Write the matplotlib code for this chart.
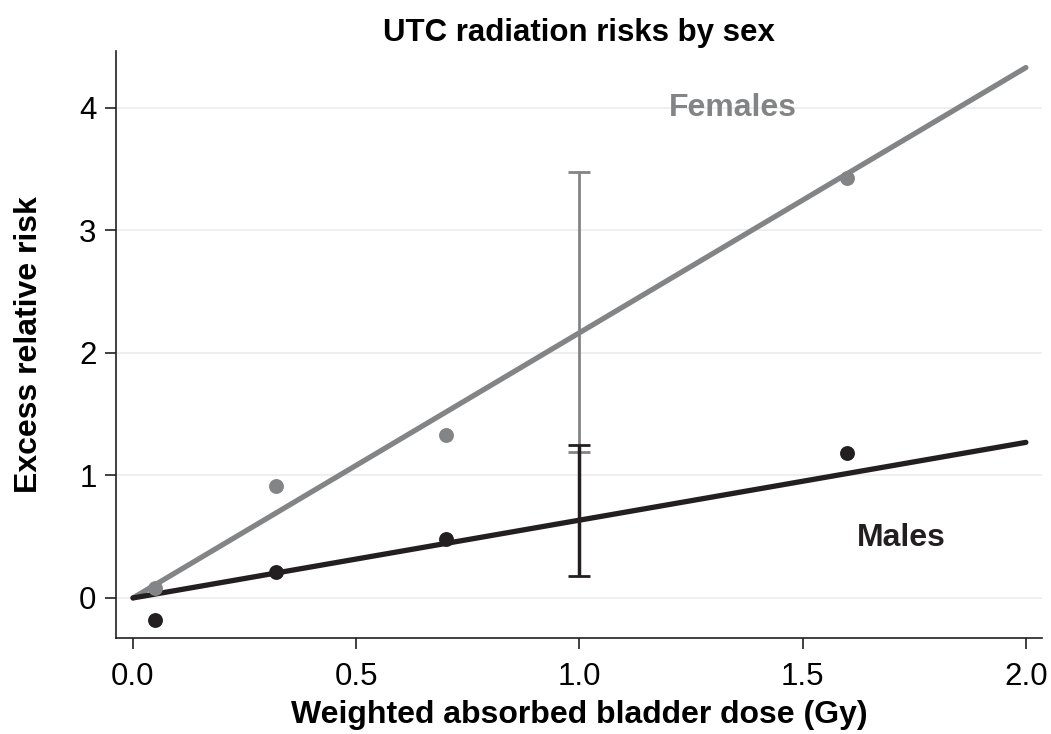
import matplotlib
matplotlib.use("Agg")
import matplotlib.pyplot as plt

plt.rcParams['font.family'] = ['Liberation Sans', 'DejaVu Sans']

# Data
doses = [0.05, 0.32, 0.70, 1.60]
female_err = [0.08, 0.91, 1.33, 3.43]
male_err = [-0.18, 0.21, 0.48, 1.18]
fit_x = [0.0, 2.0]
female_fit = [0.0, 4.33]
male_fit = [0.0, 1.27]
ci_x = 1.0
female_ci = [1.19, 3.48]
male_ci = [0.18, 1.25]
xticks = [0.0, 0.5, 1.0, 1.5, 2.0]
xticklabels = ['0.0', '0.5', '1.0', '1.5', '2.0']
yticks = [0, 1, 2, 3, 4]

GRAY = '#838486'
BLACK = '#231f20'

fig = plt.figure(figsize=(10.51, 7.34), dpi=100)
ax = fig.add_axes([0.1104, 0.1308, 0.8810, 0.7997])

for y in yticks:
    ax.axhline(y, color='#ececec', lw=1.2, zorder=0)

ax.plot(fit_x, female_fit, color=GRAY, lw=3.8, solid_capstyle='round', zorder=2)
ax.plot(fit_x, male_fit, color=BLACK, lw=3.8, solid_capstyle='round', zorder=3)
ax.scatter(doses, female_err, s=115, color=GRAY, zorder=4, linewidths=0)
ax.scatter(doses, male_err, s=115, color=BLACK, zorder=4, linewidths=0)

fmid = sum(female_ci) / 2
mmid = sum(male_ci) / 2
ax.errorbar([ci_x], [fmid], yerr=[[fmid - female_ci[0]], [female_ci[1] - fmid]],
            fmt='none', ecolor=GRAY, elinewidth=2, capsize=8, capthick=2, zorder=5)
ax.errorbar([ci_x], [mmid], yerr=[[mmid - male_ci[0]], [male_ci[1] - mmid]],
            fmt='none', ecolor=BLACK, elinewidth=2.5, capsize=8, capthick=2, zorder=6)

ax.text(1.343, 4.0, 'Females', color=GRAY, fontsize=23, fontweight='bold', ha='center', va='center')
ax.text(1.722, 0.49, 'Males', color=BLACK, fontsize=23, fontweight='bold', ha='center', va='center')

ax.set_xlim(-0.038, 2.036)
ax.set_ylim(-0.327, 4.465)
ax.set_xticks(xticks)
ax.set_xticklabels(xticklabels)
ax.set_yticks(yticks)
ax.tick_params(labelsize=22.5, length=8, width=1.2, color='#231f20', direction='out')
ax.tick_params(axis='x', pad=9)
ax.tick_params(axis='y', pad=6)
for s in ['top', 'right']:
    ax.spines[s].set_visible(False)
for s in ['left', 'bottom']:
    ax.spines[s].set_linewidth(1.2)
    ax.spines[s].set_color('#231f20')

ax.set_xlabel('Weighted absorbed bladder dose (Gy)', fontsize=23, fontweight='bold', labelpad=6)
ax.set_ylabel('Excess relative risk', fontsize=23, fontweight='bold', labelpad=25)
ax.set_title('UTC radiation risks by sex', fontsize=22.5, fontweight='bold', pad=7)

fig.savefig('out.png', dpi=100)
